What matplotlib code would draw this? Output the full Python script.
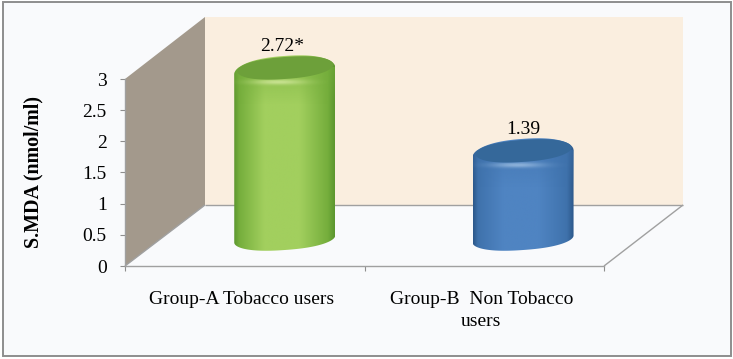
import numpy as np
import matplotlib
matplotlib.use("Agg")
import matplotlib.pyplot as plt
from matplotlib.patches import Polygon, Rectangle
from matplotlib.colors import LinearSegmentedColormap, to_rgb

categories = ["Group-A Tobacco users", "Group-B  Non Tobacco\nusers"]
values = [2.72, 1.39]
value_labels = ["2.72*", "1.39"]
y_ticks = [0, 0.5, 1, 1.5, 2, 2.5, 3]
y_tick_labels = ["0", "0.5", "1", "1.5", "2", "2.5", "3"]
y_title = "S.MDA (nmol/ml)"

W, H = 733, 359
plt.rcParams["font.family"] = ["Liberation Serif", "DejaVu Serif"]
fig = plt.figure(figsize=((W + 0.01) / 100, (H + 0.01) / 100), dpi=100, facecolor="white")

# border panel
fig.add_artist(Rectangle((2.5 / W, 2.5 / H), (W - 5) / W, (H - 5) / H,
                         transform=fig.transFigure, facecolor="#F9FAFC",
                         edgecolor="#8E8E8E", linewidth=1.4, zorder=-5))

# plot axes: x 125..604 px, y 79..266 px from the top
ax = fig.add_axes([125 / W, (H - 266) / H, 479 / W, 187 / H])
ax.set_xlim(-0.5, 1.5)
ax.set_ylim(0, 3)
ax.patch.set_visible(False)
for s in ("top", "right"):
    ax.spines[s].set_visible(False)
for s in ("left", "bottom"):
    ax.spines[s].set_color("#A0A0A0")
    ax.spines[s].set_linewidth(1.0)

ax.set_yticks(y_ticks, y_tick_labels, fontsize=14)
ax.tick_params(axis="y", length=3.6, width=0.8, color="#8E8E8E", pad=9.5, labelcolor="black")
ax.set_xticks([-0.5, 0.5, 1.5], ["", "", ""])
ax.tick_params(axis="x", which="major", length=3.6, width=0.8, color="#8E8E8E")
ax.set_xticks([-0.012, 0.988], categories, minor=True, fontsize=14, linespacing=1.35)
ax.tick_params(axis="x", which="minor", length=0, pad=18, labelcolor="black")

fig.text(33.5 / W, 1 - 172 / H, y_title, rotation=90, ha="center", va="center",
         fontsize=14.4, fontweight="bold")


def px_to_data(pts):
    """Convert picture pixels (y down) to data coordinates."""
    pts = np.asarray(pts, float)
    disp = np.column_stack([pts[:, 0], H - pts[:, 1]])
    return ax.transData.inverted().transform(disp)


def data_to_px(x, y):
    d = ax.transData.transform((x, y))
    return d[0], H - d[1]


def poly(pts, closed=True, **kw):
    p = Polygon(px_to_data(pts), closed=closed, clip_on=False, **kw)
    ax.add_patch(p)
    return p


# walls and floor
poly([(205, 17), (683, 17), (683, 205), (205, 205)], facecolor="#FAEEDF", edgecolor="none", zorder=0.5)
poly([(125, 79), (205, 17), (205, 205), (125, 266)], facecolor="#A3998C", edgecolor="none", zorder=0.6)
for seg in ([(125, 266), (205, 205)], [(205, 205), (683, 205)], [(683, 205), (604, 266)]):
    poly(seg, closed=False, fill=False, edgecolor="#A0A0A0", linewidth=1.0, zorder=0.7)


def ellipse(cx, cy, a, b, t0=0.0, t1=2 * np.pi, tilt=0.07, n=160, power=0.85):
    """Rounded, slightly tilted cylinder end."""
    t = np.linspace(t0, t1, n)
    c, s = np.cos(t), np.sin(t)
    x = a * np.sign(c) * np.abs(c) ** power
    return np.column_stack([cx + x, cy + b * s - tilt * x])


def image_in_px(arr, x0, x1, y0, y1, zorder, clip=None, **kw):
    (dx0, dy0), (dx1, dy1) = px_to_data([(x0, y0), (x1, y1)])
    im = ax.imshow(arr, extent=(dx0, dx1, dy1, dy0), aspect="auto", zorder=zorder,
                   interpolation="bilinear", origin="upper", **kw)
    if clip is not None:
        im.set_clip_box(fig.bbox)
        im.set_clip_path(clip)
    else:
        im.set_clip_on(False)
    return im


def cylinder(cat, value, edge, mid, cap, hilite, shade):
    # depth offset of the bar inside the 3D box, in pixels
    cx, y0 = data_to_px(cat + 0.167 if cat == 0 else cat + 0.162, 0)
    _, ytop = data_to_px(cat, value)
    off = 27
    base, top = y0 - off, ytop - off + 1.5
    a = 50.5
    body = np.vstack([ellipse(cx, base, a, 11, 0, np.pi),
                      ellipse(cx, top, a, 15, np.pi, 2 * np.pi)])
    clip = poly(body, facecolor="none", edgecolor="none", zorder=1)

    cmap = LinearSegmentedColormap.from_list("c", [(0, shade), (0.05, edge), (0.3, mid),
                                                   (0.65, mid), (0.93, edge), (1, shade)])
    grad = np.linspace(0, 1, 256)[None, :]
    image_in_px(grad, cx - a, cx + a, top - 20, base + 16, 1.1, clip=clip, cmap=cmap)

    # body darkens slightly just under the rim
    shadow = np.zeros((60, 2, 4))
    shadow[..., :3] = to_rgb(edge)
    shadow[..., 3] = np.linspace(0.5, 0, 60)[:, None]
    image_in_px(shadow, cx - a, cx + a, top - 4, top + 34, 1.15, clip=clip)

    # soft highlight along the front of the rim
    xx, yy = np.meshgrid(np.linspace(-1, 1, 120), np.linspace(-1, 1, 40))
    rgba = np.zeros(xx.shape + (4,))
    rgba[..., :3] = to_rgb(hilite)
    rgba[..., 3] = np.exp(-(xx / 0.5) ** 2 - (yy / 0.45) ** 2)
    image_in_px(rgba, cx - a - 6, cx + a - 6, top + 5, top + 17, 1.25, clip=clip)

    # darker inner face of the cap
    poly(ellipse(cx + 0.5, top - 3, a - 2.5, 11), facecolor=cap, edgecolor="none", zorder=1.3)
    return cx, top


bar_styles = [
    dict(edge="#75AE3C", mid="#A2CF5E", cap="#6DA03A", hilite="#C8E290", shade="#5C962F"),
    dict(edge="#3F72AC", mid="#4F84C2", cap="#35689A", hilite="#8DB2DA", shade="#2C588A"),
]

for i, (v, lab) in enumerate(zip(values, value_labels)):
    cx, top = cylinder(i, v, **bar_styles[i])
    (lx, ly), = px_to_data([(cx - 3 if i == 0 else cx, top - 24)])
    ax.text(lx, ly, lab, ha="center", va="center", fontsize=14, color="black", zorder=3, clip_on=False)

ax.set_xlim(-0.5, 1.5)
ax.set_ylim(0, 3)
fig.savefig("out.png", dpi=100, facecolor="white")
